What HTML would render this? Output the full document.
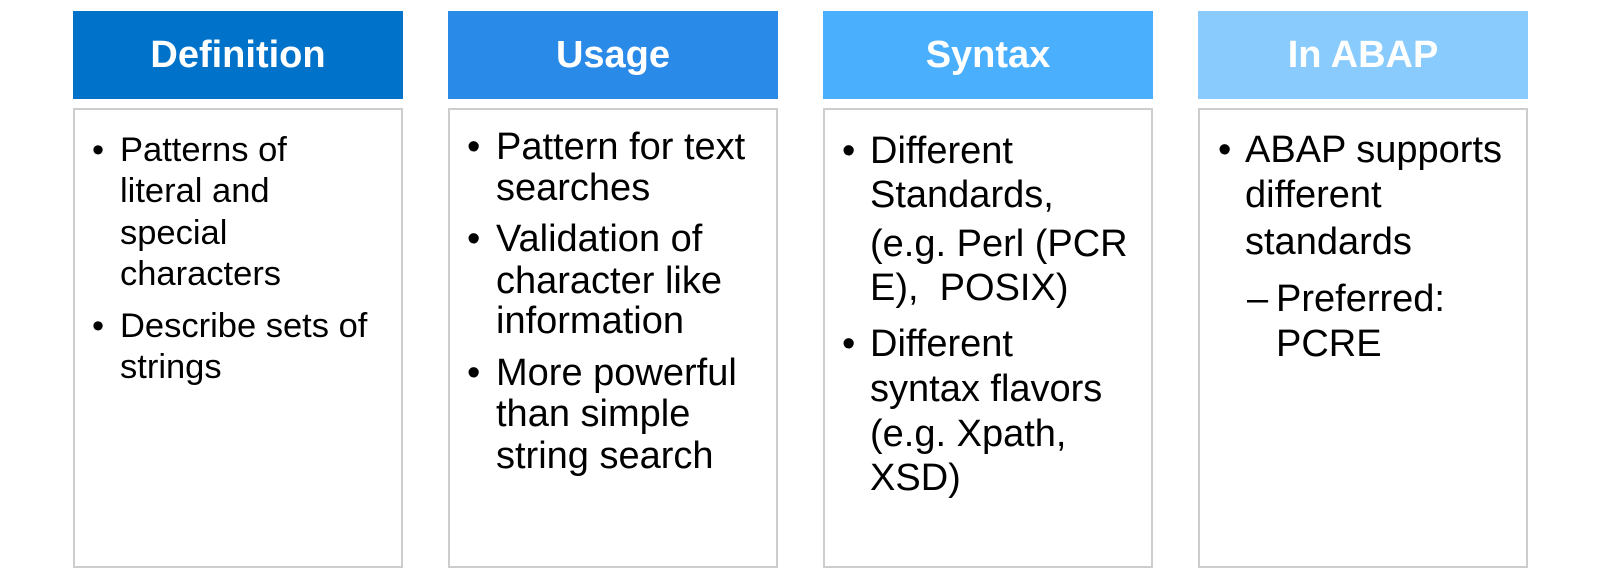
<!DOCTYPE html>
<html><head><meta charset="utf-8"><style>
html,body{margin:0;padding:0;background:#fff;}
body{width:1600px;height:577px;position:relative;overflow:hidden;font-family:"Liberation Sans",Arial,sans-serif;}
.h{position:absolute;top:11px;width:330px;height:88px;color:#fff;font-weight:bold;font-size:38px;line-height:88px;text-align:center;}
.b{position:absolute;top:108px;width:326px;height:456px;border:2px solid #cdcdcd;background:#fff;}
.t{position:absolute;line-height:40px;height:40px;white-space:nowrap;color:#000;}
.c1{font-size:34.5px;}
.c2{font-size:38px;}
.c3{font-size:38px;}
.c4{font-size:38px;line-height:45px;height:45px;}
</style></head><body>
<div class="h" style="left:73px;background:#0072c9;">Definition</div>
<div class="h" style="left:448px;background:#2a8ae8;">Usage</div>
<div class="h" style="left:823px;background:#4aaffc;">Syntax</div>
<div class="h" style="left:1198px;background:#88cbfc;">In ABAP</div>
<div class="b" style="left:73px;"></div>
<div class="b" style="left:448px;"></div>
<div class="b" style="left:823px;"></div>
<div class="b" style="left:1198px;"></div>

<!-- col1 -->
<div class="t c1" style="left:92px;top:130px;">•</div>
<div class="t c1" style="left:120px;top:130px;">Patterns of</div>
<div class="t c1" style="left:120px;top:171px;">literal and</div>
<div class="t c1" style="left:120px;top:213px;">special</div>
<div class="t c1" style="left:120px;top:254px;">characters</div>
<div class="t c1" style="left:92px;top:306px;">•</div>
<div class="t c1" style="left:120px;top:306px;">Describe sets of</div>
<div class="t c1" style="left:120px;top:347px;">strings</div>

<!-- col2 -->
<div class="t c2" style="left:467px;top:127px;">•</div>
<div class="t c2" style="left:496px;top:127px;">Pattern for text</div>
<div class="t c2" style="left:496px;top:168px;">searches</div>
<div class="t c2" style="left:467px;top:219px;">•</div>
<div class="t c2" style="left:496px;top:219px;">Validation of</div>
<div class="t c2" style="left:496px;top:261px;">character like</div>
<div class="t c2" style="left:496px;top:301px;">information</div>
<div class="t c2" style="left:467px;top:353px;">•</div>
<div class="t c2" style="left:496px;top:353px;">More powerful</div>
<div class="t c2" style="left:496px;top:394px;">than simple</div>
<div class="t c2" style="left:496px;top:436px;">string search</div>

<!-- col3 -->
<div class="t c3" style="left:842px;top:131px;">•</div>
<div class="t c3" style="left:870px;top:131px;">Different</div>
<div class="t c3" style="left:870px;top:175px;">Standards,</div>
<div class="t c3" style="left:870px;top:224px;">(e.g. Perl (PCR</div>
<div class="t c3" style="left:870px;top:268px;">E),&nbsp; POSIX)</div>
<div class="t c3" style="left:842px;top:324px;">•</div>
<div class="t c3" style="left:870px;top:324px;">Different</div>
<div class="t c3" style="left:870px;top:369px;">syntax flavors</div>
<div class="t c3" style="left:870px;top:414px;">(e.g. Xpath,</div>
<div class="t c3" style="left:870px;top:458px;">XSD)</div>

<!-- col4 -->
<div class="t c4" style="left:1218px;top:128px;">•</div>
<div class="t c4" style="left:1245px;top:128px;">ABAP supports</div>
<div class="t c4" style="left:1245px;top:173px;">different</div>
<div class="t c4" style="left:1245px;top:220px;">standards</div>
<div class="t c4" style="left:1247px;top:277px;">–</div>
<div class="t c4" style="left:1276px;top:277px;">Preferred:</div>
<div class="t c4" style="left:1276px;top:322px;">PCRE</div>
</body></html>
